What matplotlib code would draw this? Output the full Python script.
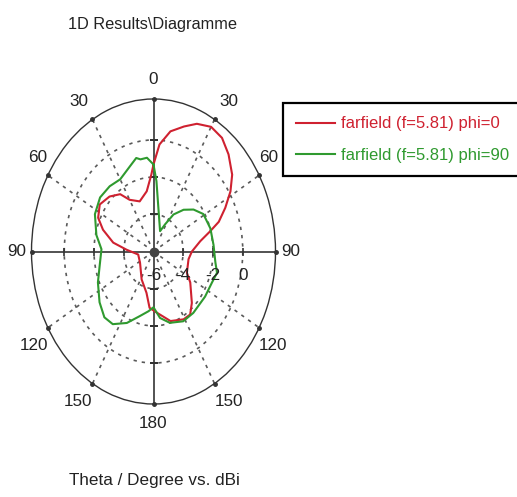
import numpy as np
import matplotlib
matplotlib.use('Agg')
import matplotlib.pyplot as plt
from matplotlib.transforms import ScaledTranslation

plt.rcParams['font.family'] = ['Liberation Sans', 'DejaVu Sans']

# far field cuts: theta (deg) and gain (dBi)
theta_phi0 = [0, 4, 10, 17, 23, 30, 37, 44, 52, 58, 64, 70, 74, 80, 90, 100,
              117, 124, 137, 144, 151, 163, 176, 185, 192, 208, 236, 261,
              273, 280, 289, 296, 305, 315, 324, 330, 341, 352, 358, 360]
gain_phi0 = [-1.32, -0.23, 0.56, 1.03, 1.46, 1.74, 1.65, 1.26, 0.71, 0.10,
             -0.63, -1.33, -2.03, -2.81, -3.42, -3.61, -3.48, -3.02, -2.22,
             -1.81, -1.83, -2.09, -2.70, -2.96, -3.73, -4.30, -4.91, -4.96,
             -4.19, -3.25, -2.41, -1.86, -1.59, -1.82, -2.19, -2.79, -3.15,
             -2.73, -1.86, -1.32]

theta_phi90 = [0, 3, 7, 22, 28, 34, 42, 50, 59, 72, 85, 98, 105, 113, 125,
               141, 152, 164, 173, 180, 186, 195, 205, 215, 223, 233, 246,
               258, 272, 283, 297, 309, 320, 330, 341, 347, 350, 355, 360]
gain_phi90 = [-1.32, -2.21, -3.45, -4.82, -4.35, -3.60, -2.98, -2.49, -2.09,
              -1.98, -1.95, -1.80, -1.58, -1.73, -1.77, -1.75, -1.75, -2.01,
              -2.40, -3.00, -2.77, -2.40, -1.76, -1.23, -1.16, -1.46, -1.91,
              -2.30, -2.50, -2.06, -1.58, -1.38, -1.42, -1.52, -1.15, -0.84,
              -0.97, -0.94, -1.32]

theta_ticks = list(range(0, 360, 30))
theta_labels = ['0', '30', '60', '90', '120', '150', '180',
                '150', '120', '90', '60', '30']
r_ticks = [-6, -4, -2, 0]
r_min, r_max = -6, 2.2

red = '#cf2130'
green = '#2f9a2f'
grid_c = '#5a5a5a'
fs = 12.3

fig = plt.figure(figsize=(5.17, 4.97), dpi=100)
ax = fig.add_axes([31.5 / 517, 93 / 497, 244 / 517, 305 / 497],
                  projection='polar')
ax.set_aspect('auto')
ax.set_theta_zero_location('N')
ax.set_theta_direction(-1)
ax.set_rlim(r_min, r_max)

ax.set_thetagrids(theta_ticks, labels=[''] * len(theta_ticks))
ax.set_rgrids(r_ticks)
ax.set_yticklabels([])
ax.grid(True, color=grid_c, linestyle=(0, (2, 3)), linewidth=1.2)
for t, tick in zip(theta_ticks, ax.xaxis.get_major_ticks()):
    if t % 90 == 0:
        tick.gridline.set_linestyle('-')
        tick.gridline.set_color('#444444')
        tick.gridline.set_linewidth(1.3)
ax.spines['polar'].set_color('#333333')
ax.spines['polar'].set_linewidth(1.0)

# angle labels sit just outside the rim, pushed diagonally like the CST plot
for t, lab in zip(theta_ticks, theta_labels):
    s, c = np.sin(np.deg2rad(t)), np.cos(np.deg2rad(t))
    if t % 90 == 0:
        px = 15
    elif t in (60, 300):
        px = 10
    else:
        px = 14
    dx = 0 if abs(s) < 1e-6 else px * np.sign(s)
    dy = 0 if abs(c) < 1e-6 else (20 if t % 180 == 0 else 18) * np.sign(c)
    off = ScaledTranslation(dx / 100, dy / 100, fig.dpi_scale_trans)
    ax.text(np.deg2rad(t), r_max, lab, transform=ax.transData + off,
            ha='center', va='center', fontsize=fs, color='#222222')

# small tick marks on the solid axis lines and dots on the rim
for a in (np.pi / 2, 3 * np.pi / 2):
    ax.plot([a] * 3, r_ticks[1:], '|', color='#333333', ms=6, mew=1.2)
for a in (0, np.pi):
    ax.plot([a] * 3, r_ticks[1:], '_', color='#333333', ms=6, mew=1.2)
ax.plot(np.deg2rad(theta_ticks), [r_max] * len(theta_ticks), 'o',
        color='#333333', ms=2.5, clip_on=False)
ax.plot([0], [r_min], 'o', color='#444444', ms=6)

ax.plot(np.deg2rad(theta_phi0), gain_phi0, color=red, lw=1.5,
        label='farfield (f=5.81) phi=0')
ax.plot(np.deg2rad(theta_phi90), gain_phi90, color=green, lw=1.5,
        label='farfield (f=5.81) phi=90')

# radial value labels below the 90 degree axis
shift = ScaledTranslation(0, -0.245, fig.dpi_scale_trans)
for r in r_ticks:
    ax.text(np.pi / 2, r, str(r), transform=ax.transData + shift,
            ha='center', va='center', fontsize=fs, color='#222222')

leg = fig.legend(loc='upper left', bbox_to_anchor=(283 / 517, 1 - 103 / 497),
                 fontsize=12, labelcolor='linecolor', fancybox=False,
                 edgecolor='black', framealpha=1, borderaxespad=0,
                 borderpad=0.8, handlelength=2.3, handletextpad=0.4,
                 labelspacing=1.0)
leg.get_frame().set_linewidth(1.6)

fig.text(68 / 517, 1 - 24 / 497, '1D Results\\Diagramme', fontsize=11.8,
         ha='left', va='center', color='#222222')
fig.text(154 / 517, 1 - 481 / 497, 'Theta / Degree vs. dBi', fontsize=fs,
         ha='center', va='center', color='#222222')

plt.savefig('out.png', dpi=100)
